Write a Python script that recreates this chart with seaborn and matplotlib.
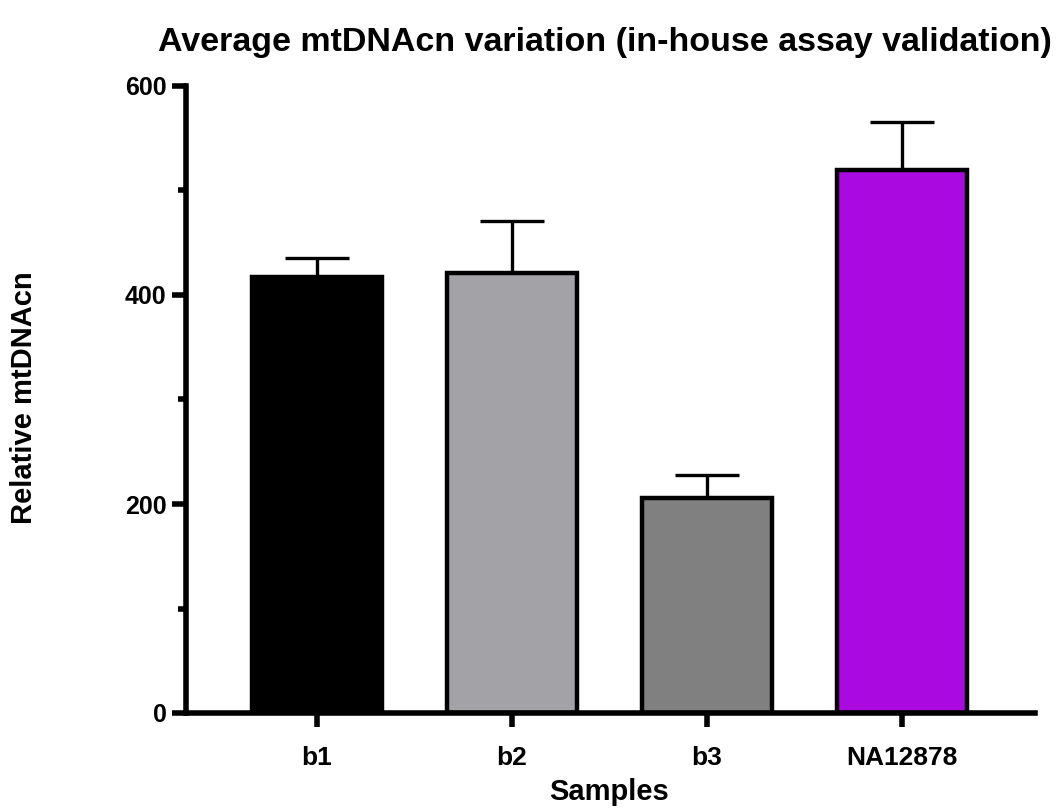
import matplotlib
matplotlib.use("Agg")
import matplotlib.pyplot as plt
import seaborn as sns
import numpy as np
import pandas as pd
from matplotlib.ticker import MultipleLocator

samples = ["b1", "b2", "b3", "NA12878"]
means = [417, 421, 206, 520]
errors = [18, 50, 22, 46]
colors = ["#000000", "#A3A2A7", "#808080", "#AA0AE0"]
yticks = [0, 200, 400, 600]

sns.set_theme(style="ticks")
plt.rcParams["font.family"] = ["Liberation Sans", "DejaVu Sans"]
plt.rcParams["font.weight"] = "bold"
plt.rcParams["text.color"] = "black"
plt.rcParams["axes.labelcolor"] = "black"
plt.rcParams["xtick.color"] = "black"
plt.rcParams["ytick.color"] = "black"

fig = plt.figure(figsize=(10.59, 8.08), dpi=100)
W, H = 1059, 808
ax = fig.add_axes([186 / W, 1 - 713 / H, (1035 - 186) / W, (713 - 86) / H])

df = pd.DataFrame({"Sample": samples, "Value": means})
ax.errorbar(np.arange(len(samples)), means, yerr=[np.zeros(len(errors)), errors],
            fmt="none", ecolor="black", elinewidth=2.4, capsize=23, capthick=2.4, zorder=1)
sns.barplot(data=df, x="Sample", y="Value", hue="Sample", palette=colors, legend=False,
            width=0.667, edgecolor="black", linewidth=3.2, ax=ax, zorder=2,
            errorbar=None, saturation=1)

ax.set_xlim(-0.67, 3.68)
ax.set_ylim(0, 600)
ax.set_yticks(yticks)
ax.yaxis.set_minor_locator(MultipleLocator(100))
ax.set_xlabel("")
ax.set_ylabel("")

for side in ["top", "right"]:
    ax.spines[side].set_visible(False)
for side in ["left", "bottom"]:
    ax.spines[side].set_linewidth(4)
    ax.spines[side].set_color("black")

ax.tick_params(axis="y", which="major", length=10, width=4, color="black",
               labelcolor="black", labelsize=18, pad=4)
ax.tick_params(axis="y", which="minor", length=6, width=4, color="black")
ax.tick_params(axis="x", which="major", length=10, width=4, color="black",
               labelcolor="black", labelsize=19, pad=14)
for lab in ax.get_xticklabels() + ax.get_yticklabels():
    lab.set_fontweight("bold")

ax.set_title("Average mtDNAcn variation (in-house assay validation)",
             fontsize=24.5, fontweight="bold", pad=25, color="black", x=0.493)
fig.text(24 / W, 1 - 398 / H, "Relative mtDNAcn", rotation=90, ha="center",
         va="center", fontsize=21, fontweight="bold", color="black")
fig.text(609 / W, 1 - 792 / H, "Samples", ha="center", va="center",
         fontsize=21, fontweight="bold", color="black")

fig.savefig("out.png", dpi=100, facecolor="white")
